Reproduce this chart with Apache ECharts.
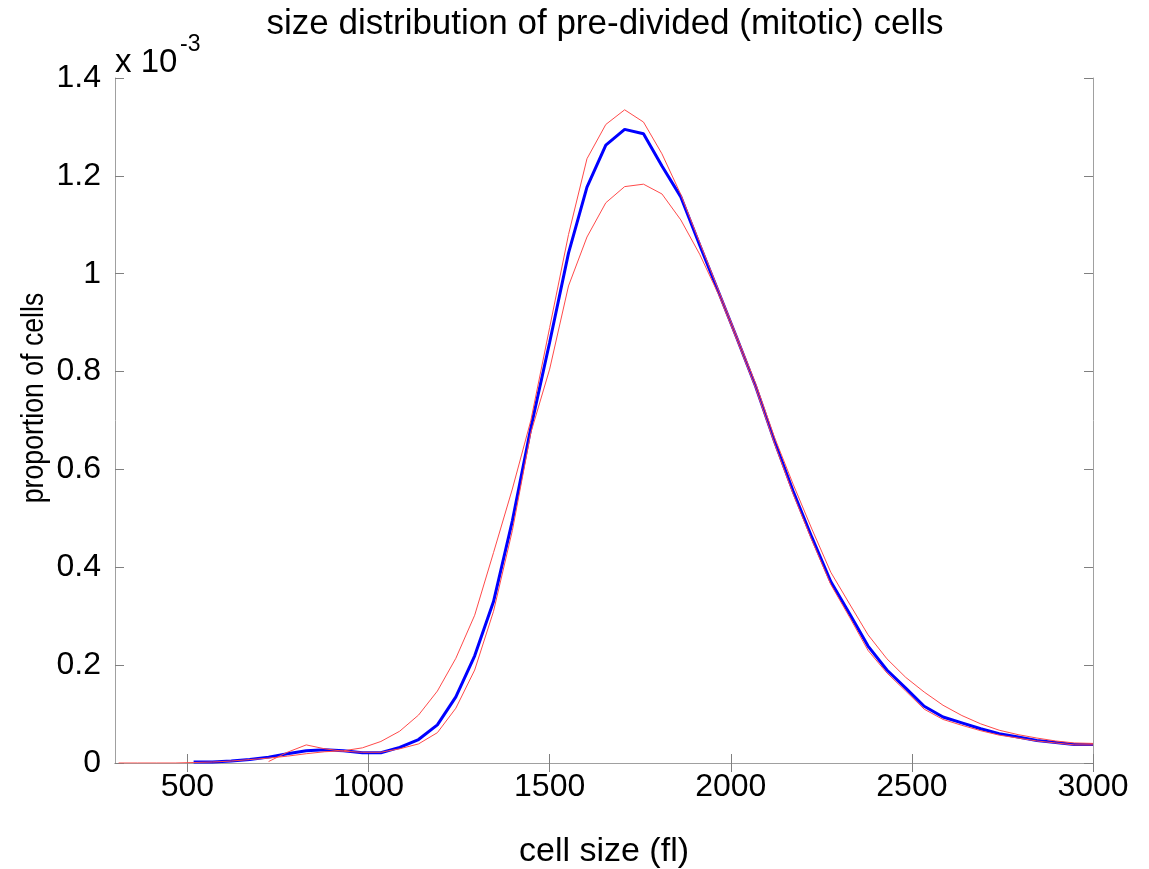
<!DOCTYPE html>
<html>
<head>
<meta charset="utf-8">
<script src="https://cdn.jsdelivr.net/npm/echarts@6/dist/echarts.min.js"></script>
<style>
  html, body { margin: 0; padding: 0; background: #ffffff; }
  #chart { width: 1149px; height: 869px; }
</style>
</head>
<body>
<div id="chart"></div>
<script>
// Cell size bins (fl)
const cellSize = [310, 362, 414, 466, 517, 569, 621, 672, 724, 776, 828, 879, 931, 983,
  1034, 1086, 1138, 1190, 1241, 1293, 1345, 1397, 1448, 1500, 1552, 1603, 1655, 1707,
  1759, 1810, 1862, 1914, 1966, 2017, 2069, 2121, 2172, 2224, 2276, 2328, 2379, 2431,
  2483, 2534, 2586, 2638, 2690, 2741, 2793, 2845, 2897, 2948, 3000];

// Proportion of cells, in units of 10^-3 (null where a curve has no value)
const meanProportion = [null, null, null, null,
  0.002, 0.002, 0.004, 0.007, 0.012, 0.019, 0.025, 0.027, 0.025, 0.021,
  0.021, 0.032, 0.048, 0.078, 0.135, 0.219, 0.330, 0.495, 0.685, 0.860, 1.042, 1.177, 1.263, 1.295,
  1.286, 1.220, 1.157, 1.059, 0.963, 0.868, 0.769, 0.657, 0.556, 0.461, 0.371, 0.305, 0.239, 0.190,
  0.153, 0.116, 0.094, 0.082, 0.070, 0.060, 0.053, 0.046, 0.042, 0.038, 0.038];

const boundUpper = [0, 0, 0, 0,
  0.001, 0.002, 0.004, 0.007, 0.010, 0.014, 0.019, 0.023, 0.025, 0.031,
  0.044, 0.065, 0.098, 0.147, 0.214, 0.302, 0.430, 0.560, 0.700, 0.890, 1.080, 1.235, 1.305, 1.335,
  1.310, 1.245, 1.162, 1.064, 0.967, 0.872, 0.775, 0.665, 0.570, 0.478, 0.390, 0.325, 0.262, 0.213,
  0.175, 0.145, 0.118, 0.097, 0.080, 0.067, 0.058, 0.051, 0.045, 0.041, 0.040];

const boundLower = [null, null, null, null,
  null, null, null, null, 0.003, 0.022, 0.037, 0.029, 0.024, 0.022,
  0.022, 0.029, 0.039, 0.062, 0.112, 0.190, 0.310, 0.475, 0.675, 0.805, 0.975, 1.075, 1.145, 1.178,
  1.183, 1.163, 1.110, 1.040, 0.958, 0.864, 0.765, 0.652, 0.550, 0.455, 0.365, 0.298, 0.230, 0.184,
  0.147, 0.110, 0.089, 0.077, 0.066, 0.057, 0.051, 0.045, 0.041, 0.037, 0.037];

const xTickValues = [500, 1000, 1500, 2000, 2500, 3000];
const yTickValues = [0, 0.2, 0.4, 0.6, 0.8, 1.0, 1.2, 1.4];

const FONT = "'Liberation Sans', Arial, Helvetica, sans-serif";

function pairs(ys) {
  const out = [];
  for (let i = 0; i < cellSize.length; i++) {
    if (ys[i] !== null) out.push([cellSize[i], ys[i]]);
  }
  return out;
}

const boxLine = { show: true, lineStyle: { color: '#a0a0a0', width: 1 } };
const tickStyle = { color: '#808080', width: 1 };

const chart = echarts.init(document.getElementById('chart'), null, { renderer: 'canvas' });

chart.setOption({
  animation: false,
  backgroundColor: '#ffffff',
  grid: { left: 115, top: 78, width: 978, height: 685, containLabel: false, outerBoundsMode: 'none' },
  xAxis: [
    {
      type: 'value', position: 'bottom', min: 300, max: 3000,
      axisLine: boxLine,
      axisTick: { show: true, inside: true, length: 9, customValues: xTickValues, lineStyle: tickStyle },
      axisLabel: { show: true, customValues: xTickValues, color: '#000', fontSize: 32, fontFamily: FONT, margin: 8,
                   formatter: v => String(v) },
      splitLine: { show: false },
      name: 'cell size (fl)', nameLocation: 'middle', nameGap: 72,
      nameTextStyle: { color: '#000', fontSize: 34, fontFamily: FONT }
    },
    {
      type: 'value', position: 'top', min: 300, max: 3000,
      axisLine: boxLine,
      axisTick: { show: true, inside: true, length: 9, customValues: xTickValues, lineStyle: tickStyle },
      axisLabel: { show: false },
      splitLine: { show: false }
    }
  ],
  yAxis: [
    {
      type: 'value', position: 'left', min: 0, max: 1.4, interval: 0.2,
      axisLine: boxLine,
      axisTick: { show: true, inside: true, length: 9, lineStyle: tickStyle },
      axisLabel: {
        show: true, color: '#000', fontSize: 32, fontFamily: FONT, margin: 14,
        formatter: v => String(Math.round(v * 10) / 10)
      },
      splitLine: { show: false }
    },
    {
      type: 'value', position: 'right', min: 0, max: 1.4, interval: 0.2,
      axisLine: boxLine,
      axisTick: { show: true, inside: true, length: 9, lineStyle: tickStyle },
      axisLabel: { show: false },
      splitLine: { show: false }
    }
  ],
  graphic: [
    {
      type: 'text', x: 605, y: 7,
      style: { text: 'size distribution of pre-divided (mitotic) cells', fill: '#000',
               font: '35px ' + FONT, textAlign: 'center', textVerticalAlign: 'top' }
    },
    {
      // y-axis title, rotated and set slightly condensed
      type: 'text', x: 34, y: 398, rotation: Math.PI / 2, scaleX: 0.86,
      style: { text: 'proportion of cells', fill: '#000',
               font: '31px ' + FONT, textAlign: 'center', textVerticalAlign: 'middle' }
    },
    {
      type: 'text', x: 115, y: 46,
      style: { text: 'x 10', fill: '#000', font: '33px ' + FONT, textVerticalAlign: 'top' }
    },
    {
      type: 'text', x: 180, y: 33,
      style: { text: '-3', fill: '#000', font: '23px ' + FONT, textVerticalAlign: 'top' }
    }
  ],
  series: [
    {
      type: 'line', name: 'mean', data: pairs(meanProportion),
      xAxisIndex: 0, yAxisIndex: 0, showSymbol: false, symbol: 'none',
      lineStyle: { color: '#0000ff', width: 3 }, z: 2
    },
    {
      type: 'line', name: 'upper', data: pairs(boundUpper),
      xAxisIndex: 0, yAxisIndex: 0, showSymbol: false, symbol: 'none',
      lineStyle: { color: '#ff4a4a', width: 1 }, z: 3
    },
    {
      type: 'line', name: 'lower', data: pairs(boundLower),
      xAxisIndex: 0, yAxisIndex: 0, showSymbol: false, symbol: 'none',
      lineStyle: { color: '#ff4a4a', width: 1 }, z: 3
    }
  ]
});
</script>
</body>
</html>
